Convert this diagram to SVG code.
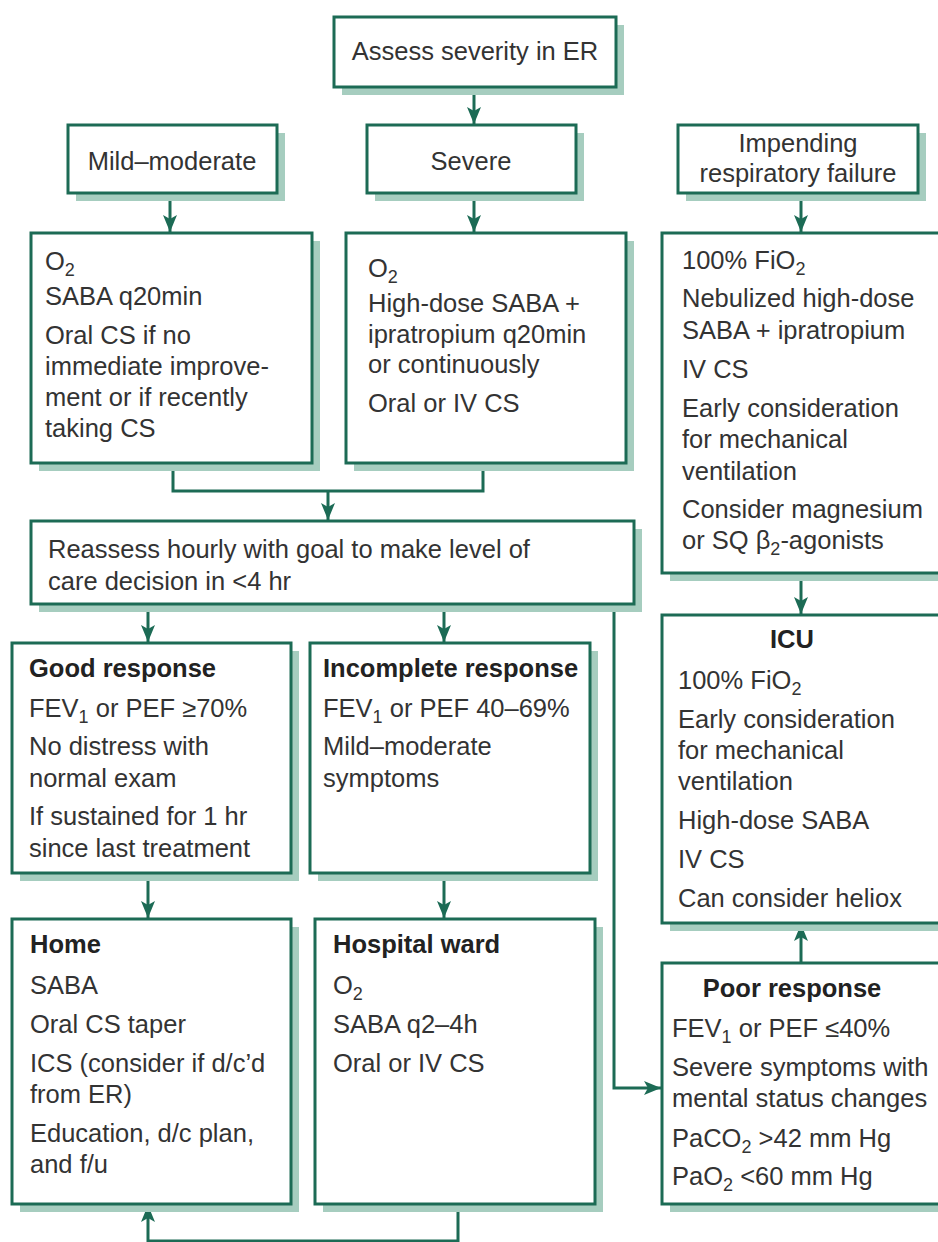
<svg xmlns="http://www.w3.org/2000/svg" width="938" height="1242" viewBox="0 0 938 1242">
  <style>
    .box { fill: #ffffff; stroke: #1c6b55; stroke-width: 3; }
    .shadow { fill: #a6cdbf; }
    .t { font-family: "Liberation Sans", Arial, sans-serif; font-size: 25.5px; fill: #333333; }
    .h { font-family: "Liberation Sans", Arial, sans-serif; font-size: 25.5px; font-weight: bold; fill: #222222; }
    .c { text-anchor: middle; }
    .link { fill: none; stroke: #1c6b55; stroke-width: 3; }
    .arrow { marker-end: url(#head); }
  </style>
  <defs>
    <marker id="head" markerUnits="userSpaceOnUse" markerWidth="20" markerHeight="16" refX="18" refY="8" orient="auto">
      <path d="M18,8 L1,1 L5,8 L1,15 Z" fill="#1c6b55"/>
    </marker>
  </defs>
  <rect width="938" height="1242" fill="#ffffff"/>

  <!-- connectors -->
  <g id="connectors">
    <path class="link arrow" d="M474,87 V124"/>
    <path class="link arrow" d="M170,193 V232"/>
    <path class="link arrow" d="M474,193 V232"/>
    <path class="link arrow" d="M801,193 V232"/>
    <path class="link" d="M173,463 V491 H483 V463"/>
    <path class="link arrow" d="M328,491 V520"/>
    <path class="link arrow" d="M148,604 V642"/>
    <path class="link arrow" d="M444,604 V642"/>
    <path class="link arrow" d="M614,604 V1088 H661"/>
    <path class="link arrow" d="M801,573 V614"/>
    <path class="link arrow" d="M148,873 V918"/>
    <path class="link arrow" d="M444,873 V918"/>
    <path class="link arrow" d="M801,963 V924"/>
    <path class="link arrow" d="M458,1204 V1241 H148 V1205"/>
  </g>

  <g id="assess">
    <rect class="shadow" x="342" y="25" width="282" height="70"/>
    <rect class="box" x="334" y="17" width="282" height="70"/>
    <text class="t c" x="475" y="60">Assess severity in ER</text>
  </g>

  <g id="mild-moderate">
    <rect class="shadow" x="76" y="133" width="209" height="68"/>
    <rect class="box" x="68" y="125" width="209" height="68"/>
    <text class="t c" x="172" y="170">Mild–moderate</text>
  </g>

  <g id="severe">
    <rect class="shadow" x="375" y="133" width="209" height="68"/>
    <rect class="box" x="367" y="125" width="209" height="68"/>
    <text class="t c" x="471" y="170">Severe</text>
  </g>

  <g id="impending">
    <rect class="shadow" x="686" y="133" width="240" height="68"/>
    <rect class="box" x="678" y="125" width="240" height="68"/>
    <text class="t c" x="798" y="152">Impending</text>
    <text class="t c" x="798" y="182">respiratory failure</text>
  </g>

  <g id="mild-treatment">
    <rect class="shadow" x="39" y="241" width="281" height="230"/>
    <rect class="box" x="31" y="233" width="281" height="230"/>
    <text class="t" x="45" y="270">O<tspan font-size="18" dy="6">2</tspan></text>
    <text class="t" x="45" y="305">SABA q20min</text>
    <text class="t" x="45" y="344">Oral CS if no</text>
    <text class="t" x="45" y="375">immediate improve-</text>
    <text class="t" x="45" y="406">ment or if recently</text>
    <text class="t" x="45" y="437">taking CS</text>
  </g>

  <g id="severe-treatment">
    <rect class="shadow" x="354" y="241" width="280" height="230"/>
    <rect class="box" x="346" y="233" width="280" height="230"/>
    <text class="t" x="368" y="277">O<tspan font-size="18" dy="6">2</tspan></text>
    <text class="t" x="368" y="312">High-dose SABA +</text>
    <text class="t" x="368" y="343">ipratropium q20min</text>
    <text class="t" x="368" y="373">or continuously</text>
    <text class="t" x="368" y="412">Oral or IV CS</text>
  </g>

  <g id="failure-treatment">
    <rect class="shadow" x="670" y="241" width="300" height="340"/>
    <rect class="box" x="662" y="233" width="300" height="340"/>
    <text class="t" x="682" y="269">100% FiO<tspan font-size="18" dy="6">2</tspan></text>
    <text class="t" x="682" y="307">Nebulized high-dose</text>
    <text class="t" x="682" y="339">SABA + ipratropium</text>
    <text class="t" x="682" y="378">IV CS</text>
    <text class="t" x="682" y="417">Early consideration</text>
    <text class="t" x="682" y="448">for mechanical</text>
    <text class="t" x="682" y="480">ventilation</text>
    <text class="t" x="682" y="518">Consider magnesium</text>
    <text class="t" x="682" y="549">or SQ β<tspan font-size="18" dy="6">2</tspan><tspan dy="-6">-agonists</tspan></text>
  </g>

  <g id="reassess">
    <rect class="shadow" x="39" y="529" width="603" height="83"/>
    <rect class="box" x="31" y="521" width="603" height="83"/>
    <text class="t" x="48" y="558">Reassess hourly with goal to make level of</text>
    <text class="t" x="48" y="590">care decision in &lt;4 hr</text>
  </g>

  <g id="good-response">
    <rect class="shadow" x="20" y="651" width="279" height="230"/>
    <rect class="box" x="12" y="643" width="279" height="230"/>
    <text class="h" x="29" y="677">Good response</text>
    <text class="t" x="29" y="717">FEV<tspan font-size="18" dy="6">1</tspan><tspan dy="-6"> or PEF ≥70%</tspan></text>
    <text class="t" x="29" y="755">No distress with</text>
    <text class="t" x="29" y="787">normal exam</text>
    <text class="t" x="29" y="825">If sustained for 1 hr</text>
    <text class="t" x="29" y="857">since last treatment</text>
  </g>

  <g id="incomplete-response">
    <rect class="shadow" x="318" y="651" width="280" height="230"/>
    <rect class="box" x="310" y="643" width="280" height="230"/>
    <text class="h" x="323" y="677">Incomplete response</text>
    <text class="t" x="323" y="717">FEV<tspan font-size="18" dy="6">1</tspan><tspan dy="-6"> or PEF 40–69%</tspan></text>
    <text class="t" x="323" y="755">Mild–moderate</text>
    <text class="t" x="323" y="787">symptoms</text>
  </g>

  <g id="icu">
    <rect class="shadow" x="670" y="623" width="300" height="308"/>
    <rect class="box" x="662" y="615" width="300" height="308"/>
    <text class="h c" x="792" y="648">ICU</text>
    <text class="t" x="678" y="689">100% FiO<tspan font-size="18" dy="6">2</tspan></text>
    <text class="t" x="678" y="728">Early consideration</text>
    <text class="t" x="678" y="759">for mechanical</text>
    <text class="t" x="678" y="790">ventilation</text>
    <text class="t" x="678" y="829">High-dose SABA</text>
    <text class="t" x="678" y="868">IV CS</text>
    <text class="t" x="678" y="907">Can consider heliox</text>
  </g>

  <g id="home">
    <rect class="shadow" x="20" y="927" width="279" height="285"/>
    <rect class="box" x="12" y="919" width="279" height="285"/>
    <text class="h" x="30" y="953">Home</text>
    <text class="t" x="30" y="994">SABA</text>
    <text class="t" x="30" y="1033">Oral CS taper</text>
    <text class="t" x="30" y="1072">ICS (consider if d/c’d</text>
    <text class="t" x="30" y="1103">from ER)</text>
    <text class="t" x="30" y="1142">Education, d/c plan,</text>
    <text class="t" x="30" y="1173">and f/u</text>
  </g>

  <g id="hospital-ward">
    <rect class="shadow" x="323" y="927" width="280" height="285"/>
    <rect class="box" x="315" y="919" width="280" height="285"/>
    <text class="h" x="333" y="953">Hospital ward</text>
    <text class="t" x="333" y="994">O<tspan font-size="18" dy="6">2</tspan></text>
    <text class="t" x="333" y="1033">SABA q2–4h</text>
    <text class="t" x="333" y="1072">Oral or IV CS</text>
  </g>

  <g id="poor-response">
    <rect class="shadow" x="670" y="971" width="300" height="241"/>
    <rect class="box" x="662" y="963" width="300" height="241"/>
    <text class="h c" x="792" y="997">Poor response</text>
    <text class="t" x="672" y="1037">FEV<tspan font-size="18" dy="6">1</tspan><tspan dy="-6"> or PEF ≤40%</tspan></text>
    <text class="t" x="672" y="1076">Severe symptoms with</text>
    <text class="t" x="672" y="1107">mental status changes</text>
    <text class="t" x="672" y="1147">PaCO<tspan font-size="18" dy="6">2</tspan><tspan dy="-6"> &gt;42 mm Hg</tspan></text>
    <text class="t" x="672" y="1185">PaO<tspan font-size="18" dy="6">2</tspan><tspan dy="-6"> &lt;60 mm Hg</tspan></text>
  </g>
</svg>
